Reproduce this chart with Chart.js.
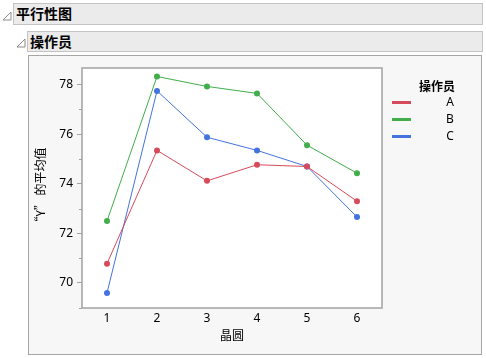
<!DOCTYPE html>
<html>
<head>
<meta charset="utf-8">
<script src="https://cdn.jsdelivr.net/npm/chart.js@4"></script>
<style>
  html, body { margin:0; padding:0; background:#ffffff; }
  body { width:486px; height:358px; position:relative; overflow:hidden;
         font-family: "Noto Sans", "Noto Sans CJK SC", sans-serif; }
  .bar { position:absolute; background:#ebebeb; border:1px solid #c4c4c4; box-sizing:border-box;
         font-family:"Noto Sans CJK SC", sans-serif; font-weight:bold; font-size:14px; color:#000;
         line-height:19px; padding-left:2px; }
  .panel { position:absolute; left:28px; top:55px; width:454px; height:300px; background:#f7f7f7;
           border:1.5px solid #a6a6a6; box-sizing:border-box; }
  #wrap { position:absolute; left:0; top:0; width:486px; height:358px; }
  .leg { position:absolute; font-size:12px; color:#000; }
  .legline { position:absolute; height:3px; width:19px; left:392px; }
</style>
</head>
<body>
<div class="bar" style="left:13px;top:3px;width:470px;height:22px;">平行性图</div>
<svg style="position:absolute;left:2px;top:11px" width="11" height="11"><polygon points="1,9 9,1 9,9" fill="none" stroke="#8a8a8a" stroke-width="1"/></svg>
<div class="bar" style="left:27px;top:31px;width:456px;height:21px;">操作员</div>
<svg style="position:absolute;left:16px;top:38px" width="11" height="11"><polygon points="1,9 9,1 9,9" fill="none" stroke="#8a8a8a" stroke-width="1"/></svg>
<div class="panel"></div>
<div id="wrap"><canvas id="c" width="486" height="358"></canvas></div>
<div class="leg" style="left:400px;top:77px;width:74px;text-align:center;font-family:'Noto Sans CJK SC',sans-serif;font-weight:bold;">操作员</div>
<div id="legend"></div>
<script>
const wafers = [1, 2, 3, 4, 5, 6];
const operators = ["A", "B", "C"];
const seriesA = [70.78, 75.35, 74.12, 74.77, 74.70, 73.30];
const seriesB = [72.50, 78.33, 77.93, 77.65, 75.56, 74.43];
const seriesC = [69.60, 77.75, 75.88, 75.35, 74.70, 72.66];
const yMajorTicks = [70, 72, 74, 76, 78];
const yMinorTicks = [69, 71, 73, 75, 77];
const xTicks = [1, 2, 3, 4, 5, 6];
const colors = ["#d64b5b", "#42ad4b", "#4473de"];
const seriesList = [seriesA, seriesB, seriesC];

// legend (HTML)
const legend = document.getElementById('legend');
operators.forEach((op, i) => {
  const top = 102 + i * 17;
  const ln = document.createElement('div');
  ln.className = 'legline';
  ln.style.top = (top - 1) + 'px';
  ln.style.background = colors[i];
  legend.appendChild(ln);
  const lb = document.createElement('div');
  lb.className = 'leg';
  lb.style.left = '440px'; lb.style.width = '20px'; lb.style.textAlign = 'center';
  lb.style.top = (top - 9) + 'px';
  lb.textContent = op;
  legend.appendChild(lb);
});

const frame = {
  id: 'frame',
  beforeDatasetsDraw(chart) {
    const {ctx, chartArea: a} = chart;
    ctx.save();
    ctx.fillStyle = '#ffffff';
    ctx.fillRect(a.left, a.top, a.right - a.left, a.bottom - a.top);
    ctx.restore();
  },
  afterDraw(chart) {
    const {ctx, chartArea: a, scales} = chart;
    ctx.save();
    ctx.strokeStyle = '#a3a3a3';
    ctx.lineWidth = 1.5;
    ctx.strokeRect(a.left, a.top, a.right - a.left, a.bottom - a.top);
    ctx.lineWidth = 1;
    ctx.beginPath();
    yMinorTicks.forEach(v => {
      const y = Math.round(scales.y.getPixelForValue(v)) + 0.5;
      ctx.moveTo(a.left - 3, y); ctx.lineTo(a.left, y);
    });
    ctx.stroke();
    ctx.restore();
  }
};

new Chart(document.getElementById('c'), {
  type: 'line',
  data: {
    datasets: operators.map((op, i) => ({
      label: op,
      data: wafers.map((w, j) => ({x: w, y: seriesList[i][j]})),
      borderColor: colors[i],
      backgroundColor: colors[i],
      borderWidth: 1,
      pointRadius: 3,
      pointBorderWidth: 0,
      pointHoverRadius: 3,
      tension: 0
    }))
  },
  options: {
    responsive: false,
    animation: false,
    events: [],
    layout: { padding: { left: 30, top: 68, right: 104, bottom: 15 } },
    plugins: { legend: { display: false }, tooltip: { enabled: false } },
    scales: {
      x: {
        type: 'linear', min: 0.5, max: 6.5,
        afterBuildTicks: s => { s.ticks = xTicks.map(v => ({value: v})); },
        afterFit: s => { s.height = 35; },
        grid: { display: false, drawTicks: false },
        border: { display: false },
        ticks: { padding: 3, color: '#000', font: { family: 'Noto Sans', size: 12 }, maxRotation: 0 },
        title: { display: true, text: '晶圆', color: '#000', padding: { top: 2, bottom: 0 },
                 font: { family: 'Noto Sans CJK SC', size: 12 } }
      },
      y: {
        type: 'linear', min: 68.99, max: 78.674,
        afterBuildTicks: s => { s.ticks = yMajorTicks.map(v => ({value: v})); },
        afterFit: s => { s.width = 52; },
        grid: { drawOnChartArea: false, drawTicks: true, tickLength: 5, color: '#a3a3a3' },
        border: { display: false },
        ticks: { padding: 4, color: '#000', font: { family: 'Noto Sans', size: 12 } },
        title: { display: true, text: '“Y” 的平均值', color: '#000', padding: { top: 3, bottom: 0 },
                 font: { family: 'Noto Sans CJK SC', size: 12 } }
      }
    }
  },
  plugins: [frame]
});
</script>
</body>
</html>
